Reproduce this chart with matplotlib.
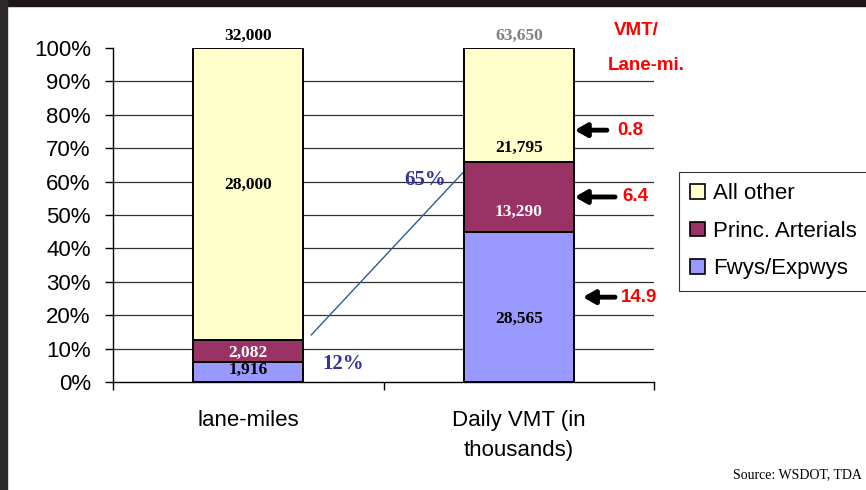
import matplotlib.pyplot as plt
import numpy as np
from matplotlib.patches import Rectangle

# data
categories = ["lane-miles", "Daily VMT (in\nthousands)"]
series = ["Fwys/Expwys", "Princ. Arterials", "All other"]
fwys = [1916, 28565]
arterials = [2082, 13290]
other = [28000, 21795]
totals = [32000, 63650]
vmt_per_lane = ["14.9", "6.4", "0.8"]      # fwys, arterials, other
share_labels = ["12%", "65%"]

colors = ["#9999FF", "#993366", "#FFFFCC"]
serif = "Liberation Serif"
sans = "Liberation Sans"

values = np.array([fwys, arterials, other], dtype=float)
pct = values / values.sum(axis=0) * 100
bottoms = np.vstack([np.zeros(2), np.cumsum(pct, axis=0)[:-1]])

fig = plt.figure(figsize=(8.66, 4.90), dpi=100)
ax = fig.add_axes([113/866, 1-382/490, (654-113)/866, (382-48)/490])

x = np.arange(len(categories))
width = 110/270
for i, name in enumerate(series):
    ax.bar(x, pct[i], width, bottom=bottoms[i], color=colors[i],
           edgecolor="black", linewidth=1.4, label=name, zorder=3)

# labels inside the segments (relative position within segment)
label_frac = [[0.6, 0.42], [0.42, 0.29], [0.53, 0.13]]
label_col = [["black", "black"], ["white", "white"], ["black", "black"]]
for i in range(3):
    for j in range(2):
        y = bottoms[i][j] + pct[i][j]*label_frac[i][j]
        ax.text(x[j], y, f"{int(values[i][j]):,}", ha="center", va="center",
                fontsize=12.5, fontweight="bold", family=serif,
                color=label_col[i][j], zorder=4)

tot_col = ["black", "#808080"]
for j in range(2):
    ax.text(x[j], 101.2, f"{totals[j]:,}", ha="center", va="bottom",
            fontsize=12.5, fontweight="bold", family=serif, color=tot_col[j])

# axes styling
ax.set_ylim(0, 100)
ax.set_xlim(-0.5, 1.5)
ax.set_yticks(np.arange(0, 101, 10))
ax.set_yticklabels([f"{v}%" for v in range(0, 101, 10)], family=sans,
                   fontsize=16)
ax.set_xticks(x)
ax.set_xticklabels(categories, family=sans, fontsize=16, linespacing=1.6)
ax.set_xticks([-0.5, 0.5, 1.5], minor=True)
ax.tick_params(axis="x", which="major", length=0, pad=20)
ax.tick_params(axis="x", which="minor", length=6, width=1)
ax.tick_params(axis="y", length=6, width=1, pad=10)
for s in ["top", "right"]:
    ax.spines[s].set_visible(False)
ax.spines["left"].set_linewidth(1)
ax.spines["bottom"].set_linewidth(1)
for v in range(10, 100, 10):
    ax.axhline(v, color="#333333", linewidth=0.9, zorder=1)

# connector line and shares
ax.plot([0.233, 0.796], [14.1, 62.9], color="#2E5E8E", linewidth=1.0,
        zorder=2, clip_on=False)
ax.text(0.352, 5.5, share_labels[0], color="#333399", fontsize=15,
        fontweight="bold", family=serif, ha="center", va="center")
ax.text(0.655, 60.5, share_labels[1], color="#333399", fontsize=15,
        fontweight="bold", family=serif, ha="center", va="center")

# VMT per lane-mile arrows
ax.text(1.435, 102.7, "VMT/", color="red", fontsize=13.5, fontweight="bold",
        family=sans, ha="center", va="bottom", clip_on=False)
ax.text(1.47, 92.2, "Lane-mi.", color="red", fontsize=13.5, fontweight="bold",
        family=sans, ha="center", va="bottom", clip_on=False)
arrow_y = [25.4, 55.4, 75.4]
arrow_x = [(1.356, 1.237), (1.356, 1.207), (1.326, 1.207)]
text_x = [1.378, 1.382, 1.364]
for k in range(3):
    ax.annotate("", xy=(arrow_x[k][1], arrow_y[k]),
                xytext=(arrow_x[k][0], arrow_y[k]),
                arrowprops=dict(arrowstyle="-|>,head_length=0.7,head_width=0.4",
                                color="black", lw=3.5, shrinkA=0, shrinkB=0),
                annotation_clip=False)
    ax.text(text_x[k], arrow_y[k], vmt_per_lane[k], color="red", fontsize=13.5,
            fontweight="bold", family=sans, ha="left", va="center",
            clip_on=False)

# legend
h, l = ax.get_legend_handles_labels()
leg = fig.legend(h[::-1], l[::-1], loc="upper left",
                 bbox_to_anchor=(679/866, 1-172/490), frameon=True,
                 fancybox=False, prop={"family": sans, "size": 16},
                 handlelength=0.65, handleheight=0.65, handletextpad=0.4,
                 labelspacing=0.75, borderpad=0.5, borderaxespad=0)
leg.get_frame().set_edgecolor("black")
leg.get_frame().set_linewidth(0.8)
for p in leg.get_patches():
    p.set_linewidth(1.2)

fig.text(862/866, 1-475/490, "Source: WSDOT, TDA", family=serif, fontsize=10,
         ha="right", va="center")

# dark frame of the screenshot
fig.patches.append(Rectangle((0, 1-6/490), 1, 6/490, transform=fig.transFigure,
                             color="#1d1517", zorder=10))
fig.patches.append(Rectangle((0, 0), 7/866, 1, transform=fig.transFigure,
                             color="#2a2a2a", zorder=10))

fig.savefig("out.png", dpi=100)
